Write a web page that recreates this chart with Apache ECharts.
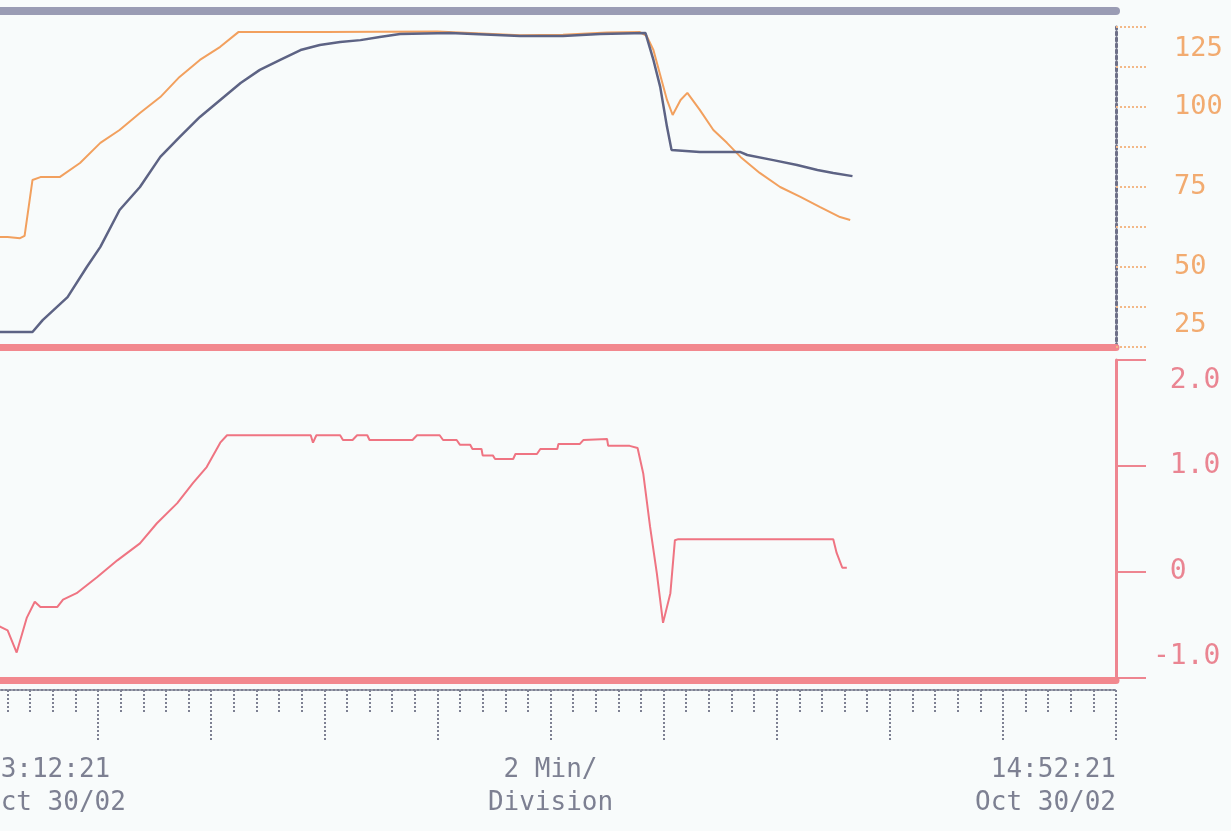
<!DOCTYPE html>
<html>
<head>
<meta charset="utf-8">
<script src="https://cdn.jsdelivr.net/npm/echarts@6/dist/echarts.min.js"></script>
<style>
  html, body { margin: 0; padding: 0; background: #f8fbfb; }
  #chart { width: 1231px; height: 831px; }
</style>
</head>
<body>
<div id="chart"></div>
<script>
// minutes after 13:12:21
const orangeTimes = [0, 2.0, 3.1, 3.5, 4.2, 4.9, 6.6, 8.4, 10.2, 11.9, 13.7, 15.5, 17.2, 19.0, 20.8, 22.4, 30, 40, 47.3, 51.1, 55, 57.9, 58.5, 59.1, 59.7, 60.3, 60.8, 61.5, 62.1, 63.2, 64.4, 65.6, 66.8, 68.5, 70.3, 72.1, 73.8, 75.6, 76.5];
const orangeValues = [59.3, 59.4, 59.0, 59.7, 77.2, 78.1, 78.1, 82.5, 88.8, 92.8, 98.1, 103.1, 109.4, 114.7, 118.8, 123.4, 123.4, 123.6, 122.4, 122.6, 123.3, 123.4, 122.2, 117.8, 110.0, 102.2, 97.5, 102.2, 104.4, 99.1, 92.8, 88.8, 84.4, 79.4, 75.0, 71.9, 68.8, 65.6, 64.7];

const blueTimes = [0, 4.2, 5.1, 7.3, 9.0, 10.2, 11.9, 13.7, 15.5, 17.2, 19.0, 20.8, 22.6, 24.3, 26.1, 27.9, 29.6, 31.4, 33.2, 34.9, 36.7, 41.1, 47.3, 51.1, 54.4, 58.4, 59.1, 59.7, 60.3, 60.7, 63.2, 66.8, 67.4, 69.7, 71.8, 73.6, 75.0, 76.7];
const blueValues = [29.7, 29.7, 33.4, 40.6, 50.0, 56.3, 67.8, 75.0, 84.4, 90.6, 96.9, 102.2, 107.5, 111.6, 114.7, 117.8, 119.4, 120.3, 120.9, 121.9, 122.8, 123.1, 122.2, 122.2, 122.8, 123.1, 114.7, 106.3, 93.8, 86.6, 85.9, 85.9, 85.0, 83.4, 81.9, 80.3, 79.4, 78.4];

const redTimes = [0, 2.0, 2.8, 3.7, 4.4, 4.9, 6.4, 6.9, 8.1, 9.9, 11.7, 13.7, 15.2, 17.0, 18.4, 19.6, 20.8, 21.4, 28.8, 29.0, 29.3, 31.4, 31.65, 32.5, 32.9, 33.8, 34.0, 37.8, 38.2, 40.2, 40.5, 41.7, 42.0, 42.9, 43.1, 43.9, 44.0, 44.9, 45.1, 46.7, 46.9, 48.8, 49.1, 50.6, 50.7, 52.6, 52.9, 55.0, 55.1, 57.0, 57.7, 58.2, 58.8, 59.4, 59.95, 60.6, 61.0, 61.3, 75.0, 75.3, 75.8, 76.2];
const redValues = [-0.45, -0.55, -0.76, -0.43, -0.28, -0.33, -0.33, -0.26, -0.2, -0.05, 0.11, 0.27, 0.46, 0.65, 0.84, 0.99, 1.22, 1.29, 1.29, 1.22, 1.29, 1.29, 1.245, 1.245, 1.29, 1.29, 1.245, 1.245, 1.29, 1.29, 1.245, 1.245, 1.2, 1.2, 1.16, 1.16, 1.1, 1.1, 1.066, 1.066, 1.113, 1.113, 1.16, 1.16, 1.208, 1.208, 1.245, 1.255, 1.19, 1.19, 1.17, 0.93, 0.43, -0.01, -0.48, -0.2, 0.30, 0.31, 0.31, 0.18, 0.04, 0.04];

const topTicks = ['125', '100', '75', '50', '25'];
const bottomTicks = ['2.0', '1.0', '0', '-1.0'];
const timeLabels = { 0: '13:12:21\nOct 30/02', 50: '2 Min/\nDivision', 100: '14:52:21\nOct 30/02' };

const zip = (xs, ys) => xs.map((x, i) => [x, ys[i]]);

const chart = echarts.init(document.getElementById('chart'));

const mono = "'DejaVu Sans Mono', 'Liberation Mono', monospace";
const bandRed = '#f2888e';
const greyInk = '#7d8092';

const option = {
  backgroundColor: '#f8fbfb',
  animation: false,
  grid: [
    { left: -15, right: 115, top: 27, height: 320, outerBoundsMode: 'none' },
    { left: -15, right: 115, top: 360, height: 318, outerBoundsMode: 'none' },
  ],
  xAxis: [
    {
      gridIndex: 0, type: 'value', min: 0, max: 100, position: 'bottom',
      axisLine: { onZero: false, lineStyle: { color: bandRed, width: 7 } },
      axisTick: { show: false }, axisLabel: { show: false }, splitLine: { show: false },
    },
    {
      gridIndex: 0, type: 'value', min: 0, max: 100, position: 'top', offset: 16,
      axisLine: { onZero: false, lineStyle: { color: '#9a9cb4', width: 8 } },
      axisTick: { show: false }, axisLabel: { show: false }, splitLine: { show: false },
    },
    {
      gridIndex: 1, type: 'value', min: 0, max: 100, position: 'bottom', offset: 2,
      axisLine: { onZero: false, lineStyle: { color: bandRed, width: 7 } },
      axisTick: { show: false }, axisLabel: { show: false }, splitLine: { show: false },
    },
    {
      gridIndex: 1, type: 'value', min: 0, max: 100, interval: 10, position: 'bottom', offset: 12,
      axisLine: { onZero: false, lineStyle: { color: greyInk, width: 2, type: 'dotted' } },
      axisTick: { length: 50, lineStyle: { color: greyInk, width: 2, type: 'dotted' } },
      minorTick: { show: true, splitNumber: 5, length: 23, lineStyle: { color: greyInk, width: 2, type: 'dotted' } },
      splitLine: { show: false },
      axisLabel: {
        margin: 64,
        fontFamily: mono, fontSize: 26, lineHeight: 33, color: greyInk,
        alignMinLabel: 'left', alignMaxLabel: 'right',
        showMinLabel: true, showMaxLabel: true,
        formatter: (v) => timeLabels[v] || '',
      },
    },
  ],
  yAxis: [
    {
      gridIndex: 0, type: 'value', position: 'right', min: 25, max: 125, interval: 12.5,
      axisLine: { show: true, onZero: false, lineStyle: { color: '#6e7088', width: 3, type: 'dotted' } },
      axisTick: { show: true, length: 30, lineStyle: { color: '#f3b887', width: 2, type: 'dotted' } },
      splitLine: { show: false },
      axisLabel: {
        margin: 58, fontFamily: mono, fontSize: 27, lineHeight: 44, color: '#f2ab70', align: 'left',
        verticalAlignMinLabel: 'bottom', verticalAlignMaxLabel: 'top',
        formatter: (v) => (v % 25 === 0 ? topTicks[(125 - v) / 25] : ''),
      },
    },
    {
      gridIndex: 1, type: 'value', position: 'right', min: -1, max: 2, interval: 1,
      axisLine: { show: true, onZero: false, lineStyle: { color: '#ee8590', width: 3 } },
      axisTick: { show: true, length: 30, lineStyle: { color: '#ee8590', width: 2 } },
      splitLine: { show: false },
      axisLabel: {
        margin: 37, fontFamily: mono, fontSize: 28, lineHeight: 42, color: '#ea8592', align: 'left',
        verticalAlignMinLabel: 'bottom', verticalAlignMaxLabel: 'top',
        formatter: (v) => (v < 0 ? '' : ' ') + bottomTicks[2 - v],
      },
    },
  ],
  series: [
    {
      type: 'line', xAxisIndex: 0, yAxisIndex: 0, data: zip(orangeTimes, orangeValues),
      showSymbol: false, lineStyle: { color: '#f2a05e', width: 2 },
    },
    {
      type: 'line', xAxisIndex: 0, yAxisIndex: 0, data: zip(blueTimes, blueValues),
      showSymbol: false, lineStyle: { color: '#5d6384', width: 2.5 },
    },
    {
      type: 'line', xAxisIndex: 3, yAxisIndex: 1, data: zip(redTimes, redValues),
      showSymbol: false, lineStyle: { color: '#ef7482', width: 2 },
    },
  ],
};

chart.setOption(option);
</script>
</body>
</html>
